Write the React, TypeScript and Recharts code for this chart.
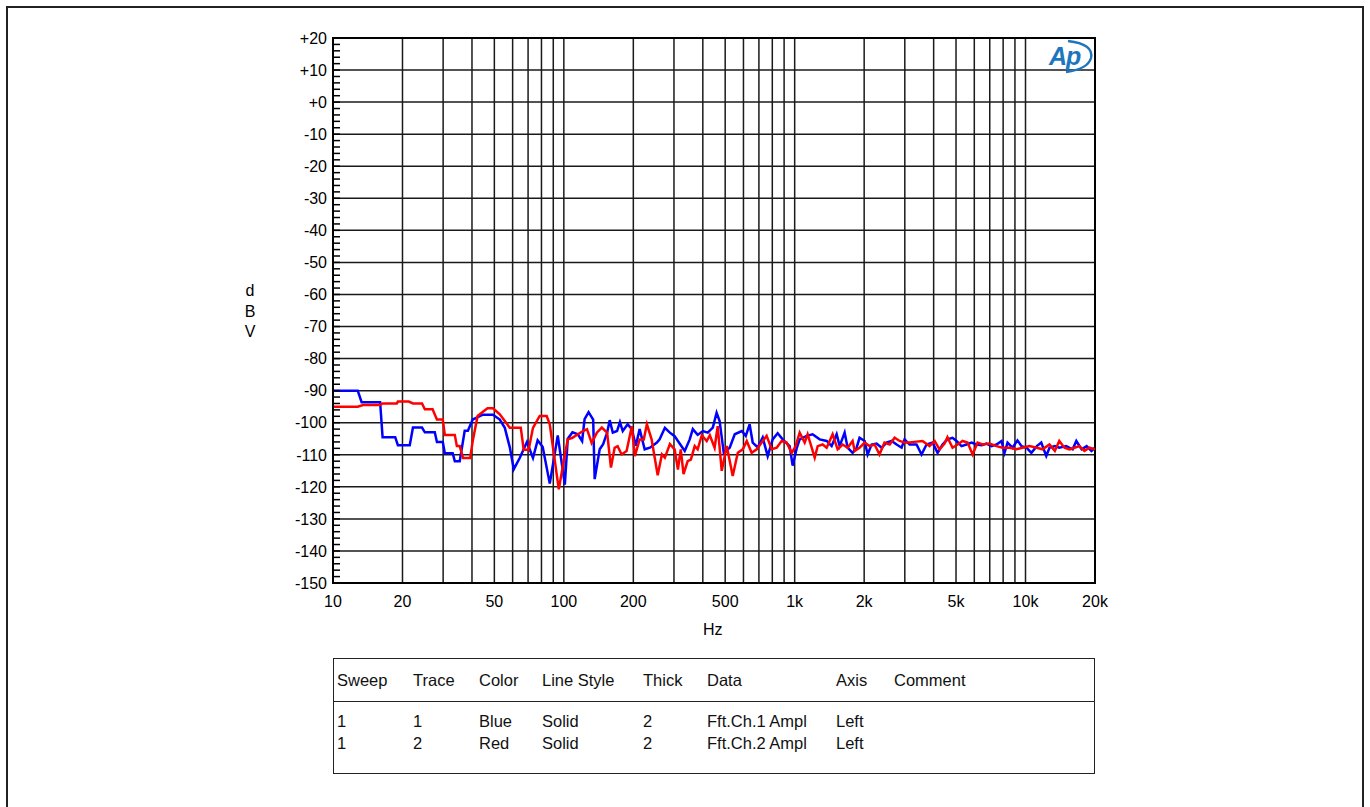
import React from "react";
import {
  LineChart,
  Line,
  XAxis,
  YAxis,
  CartesianGrid,
  ReferenceArea,
} from "recharts";

// FFT noise floor, channel 1 (blue) and channel 2 (red): [Hz, dBV]
const CH1_TRACE: [number, number][] = [
  [10, -90], [12.8, -90], [13.3, -93.6], [16, -93.6], [16.4, -104.5], [18.6, -104.5],
  [19.1, -107], [21.5, -107], [22.2, -101.5], [24.3, -101.5], [25, -103], [27.6, -103],
  [28.2, -106], [29.9, -106], [30.5, -109.5], [33, -109.5], [33.7, -112], [35.4, -112],
  [37.2, -102.5], [38.4, -102.5], [40.3, -99], [44.6, -97.5], [49.3, -97.5], [52.8, -99],
  [55.5, -101.6], [58.3, -107.6], [60.7, -114.5], [64.4, -111], [69.2, -106], [73.5, -111],
  [77, -105.5], [81, -107.6], [86.9, -119], [94.1, -104], [101, -119.3], [104, -105],
  [109, -103], [115, -103.6], [120, -105.7], [123, -98.9], [128, -96.7], [134, -99],
  [136, -117.6], [143, -108.3], [148, -106.7], [154, -103.1], [158, -99.2], [163, -103.1],
  [170, -102.6], [175, -99.8], [180, -102.6], [189, -100.5], [197, -102], [205, -107.2],
  [213, -102], [224, -108.3], [236, -107.8], [253, -106.2], [260, -105.2], [274, -101.6],
  [288, -103.1], [302, -104.2], [312, -105.7], [334, -108.8], [351, -105.2], [362, -102],
  [380, -103.8], [400, -102.6], [420, -103.1], [442, -101.5], [459, -96.9], [473, -99.5],
  [493, -109.4], [523, -107.8], [550, -103.6], [590, -102.6], [614, -104.1], [638, -100.5],
  [658, -106.2], [692, -107.7], [727, -104.6], [764, -110.4], [803, -105.2], [844, -103.3],
  [887, -105.2], [951, -107.3], [980, -113.4], [1020, -108], [1051, -105.2], [1127, -104.1],
  [1196, -103.6], [1283, -105.2], [1376, -105.7], [1446, -107.3], [1520, -103.6], [1566, -107.3],
  [1646, -103.1], [1696, -107.8], [1782, -109.4], [1855, -107.8], [1910, -104.7], [2010, -105.7],
  [2070, -109.9], [2154, -106.8], [2264, -106.5], [2381, -107.8], [2500, -106.2], [2630, -105.7],
  [2765, -106.8], [2905, -107.8], [2994, -105.2], [3146, -106.8], [3373, -106.8], [3545, -109.9],
  [3726, -106.8], [3958, -106.2], [4160, -109.4], [4370, -106.8], [4590, -105.2], [4830, -104.7],
  [5025, -105.7], [5280, -107.3], [5550, -106.8], [5840, -106.2], [6140, -106.8], [6450, -107],
  [6780, -106.5], [7120, -107.3], [7490, -106.8], [7870, -105.7], [8110, -109.4], [8360, -106.2],
  [8780, -107.8], [9230, -105.5], [9610, -107.3], [10100, -107.8], [10600, -109.4], [11200, -107.3],
  [11700, -106.2], [12300, -110.4], [12700, -107.8], [13400, -107.3], [14000, -107.8], [15000, -107.3],
  [16000, -108.3], [16600, -105.7], [17500, -108.3], [18400, -107.3], [19300, -108.8], [20000, -107.8],
];

const CH2_TRACE: [number, number][] = [
  [10, -95], [12.8, -95], [13.5, -94.5], [16, -94.5], [16.4, -94], [18.9, -94],
  [19.1, -93.4], [21.3, -93.4], [22.2, -94], [24.3, -94], [25, -95.8], [27, -95.8],
  [28.2, -99], [29.9, -99], [30.5, -103.8], [33.7, -103.8], [34.4, -107.3], [35.4, -107.3],
  [36.6, -111], [39.3, -111], [40.3, -105.7], [42.3, -97.9], [46.7, -95.5], [49.3, -95.5],
  [52.8, -97.4], [55.5, -99.5], [58.3, -101.6], [65.1, -101.6], [67, -108.4], [70.4, -108.4],
  [73.5, -101.6], [78.6, -97.9], [84.3, -97.9], [86.9, -100.5], [95.1, -120.8], [101, -110],
  [104, -105.2], [109, -104.7], [115, -103.6], [121, -102.6], [126, -102], [132, -106.3],
  [139, -103.1], [146, -101.5], [154, -103.1], [160, -114], [166, -107.8], [171, -107.3],
  [178, -109.9], [187, -108.8], [197, -101.1], [203, -110.4], [213, -105.2], [222, -105.2],
  [229, -100.5], [240, -105.2], [255, -116.4], [266, -109.9], [274, -110.9], [288, -106.7],
  [302, -108.3], [312, -114.6], [321, -108.3], [330, -116], [344, -112], [355, -111.5],
  [369, -107.3], [380, -108.3], [396, -103.9], [416, -105.7], [429, -103.9], [450, -107.8],
  [464, -101.1], [483, -115], [508, -107.3], [539, -116.6], [567, -109.4], [596, -108.3],
  [620, -105.7], [651, -109.4], [685, -108.3], [720, -106.2], [756, -104.1], [795, -108.3],
  [836, -107.8], [878, -105.7], [923, -106.2], [971, -109.4], [1010, -107.3], [1051, -103.1],
  [1105, -106.2], [1138, -103.6], [1221, -110.9], [1258, -107.3], [1322, -106.8], [1376, -107.8],
  [1460, -103.6], [1535, -108.3], [1614, -106.8], [1696, -107.8], [1782, -105.7], [1820, -108.8],
  [1910, -107.8], [2010, -106.2], [2110, -107.3], [2220, -106.8], [2330, -109.9], [2450, -106.2],
  [2580, -106.8], [2710, -104.7], [2850, -105.7], [2990, -106.2], [3150, -106.2], [3370, -105.9],
  [3580, -105.7], [3840, -107.3], [4040, -105.7], [4240, -108.3], [4460, -106.5], [4590, -104.5],
  [4830, -107.8], [5080, -106.8], [5340, -105.7], [5610, -106.2], [5900, -109.9], [6200, -106.2],
  [6510, -106.8], [6980, -106.5], [7490, -107.3], [7950, -107.8], [8530, -107.8], [9140, -108.3],
  [9710, -107.8], [10400, -107.3], [11200, -107.8], [11850, -108.3], [12700, -106.8], [13400, -108.8],
  [14000, -105.7], [14750, -107.8], [15500, -108.3], [16300, -107.8], [17100, -107.3], [18000, -108.8],
  [18900, -107.8], [20000, -108.3],
];

// log grid: 1..9 in every decade, up to 20k
const FREQ_GRID = [
  10, 20, 30, 40, 50, 60, 70, 80, 90,
  100, 200, 300, 400, 500, 600, 700, 800, 900,
  1000, 2000, 3000, 4000, 5000, 6000, 7000, 8000, 9000,
  10000, 20000,
];
const FREQ_LABELED = [10, 20, 50, 100, 200, 500, 1000, 2000, 5000, 10000, 20000];

const DB_MAJOR = [20, 10, 0, -10, -20, -30, -40, -50, -60, -70, -80, -90, -100, -110, -120, -130, -140, -150];
const DB_TICKS = Array.from({ length: 86 }, (_, i) => 20 - i * 2);

const LEGEND_COLUMNS = ["Sweep", "Trace", "Color", "Line Style", "Thick", "Data", "Axis", "Comment"];
const LEGEND_ROWS = [
  ["1", "1", "Blue", "Solid", "2", "Fft.Ch.1 Ampl", "Left", ""],
  ["1", "2", "Red", "Solid", "2", "Fft.Ch.2 Ampl", "Left", ""],
];
const COLUMN_X = [3, 79, 145, 208, 309, 373, 502, 560];

const FONT = '"Liberation Sans", Arial, sans-serif';
const TICK_GAP = 5;

const toPoints = (trace: [number, number][]) => trace.map(([hz, db]) => ({ hz, db }));

const formatHz = (v: number) => {
  if (!FREQ_LABELED.includes(v)) return "";
  return v >= 1000 ? `${v / 1000}k` : `${v}`;
};
const formatDb = (v: number) => (v >= 0 ? `+${v}` : `${v}`);

// every 2 dB: a short inward tick; every 10 dB also a label left of the axis
function DbTick(props: any) {
  const { x, y, payload } = props;
  const v = payload.value as number;
  const axisX = x + TICK_GAP;
  return (
    <g>
      <line x1={axisX} x2={axisX + 7} y1={y} y2={y} stroke="#000" strokeWidth={1.5} />
      {v % 10 === 0 && (
        <text
          x={x - 1}
          y={y}
          dy="0.36em"
          textAnchor="end"
          fontSize={16}
          fontFamily={FONT}
          fill="#000"
        >
          {formatDb(v)}
        </text>
      )}
    </g>
  );
}

function ApLogo() {
  return (
    <svg width={60} height={40} style={{ position: "absolute", left: 1042, top: 38 }}>
      <text
        x={7}
        y={27}
        fontFamily={FONT}
        fontStyle="italic"
        fontWeight="bold"
        fontSize={25}
        fill="#1d76bd"
        letterSpacing={-1}
      >
        Ap
      </text>
      <path d="M26 3 Q52 6 49 20 Q46 31 24 34" fill="none" stroke="#1d76bd" strokeWidth={2.4} />
    </svg>
  );
}

function LegendTable() {
  const cell = (text: string, x: number, y: number, key: string) => (
    <div key={key} style={{ position: "absolute", left: x, top: y, whiteSpace: "nowrap" }}>
      {text}
    </div>
  );
  return (
    <div
      style={{
        position: "absolute",
        left: 333,
        top: 658,
        width: 760,
        height: 114,
        border: "1px solid #222",
        fontFamily: FONT,
        fontSize: 16.5,
        color: "#111",
      }}
    >
      <div style={{ position: "absolute", left: 0, right: 0, top: 42, borderTop: "1px solid #222" }} />
      {LEGEND_COLUMNS.map((c, i) => cell(c, COLUMN_X[i], 12, `h${i}`))}
      {LEGEND_ROWS.map((row, r) =>
        row.map((c, i) => cell(c, COLUMN_X[i], 53 + r * 22, `r${r}c${i}`))
      )}
    </div>
  );
}

export default function App() {
  const ch1 = toPoints(CH1_TRACE);
  const ch2 = toPoints(CH2_TRACE);

  return (
    <div
      style={{
        position: "absolute",
        left: 0,
        top: 0,
        width: 1370,
        height: 807,
        background: "#fff",
        overflow: "hidden",
        fontFamily: FONT,
      }}
    >
      <div
        style={{
          position: "absolute",
          left: 6,
          top: 6,
          width: 1354,
          height: 820,
          border: "2px solid #222",
        }}
      />
      <LineChart
        width={1370}
        height={807}
        margin={{ top: 38, right: 275, bottom: 194, left: 273 }}
        style={{ position: "absolute", left: 0, top: 0 }}
      >
        <CartesianGrid
          stroke="#1a1a1a"
          strokeWidth={1.5}
          horizontalValues={DB_MAJOR}
          verticalValues={FREQ_GRID}
        />
        <XAxis
          dataKey="hz"
          type="number"
          scale="log"
          domain={[10, 20000]}
          ticks={FREQ_GRID}
          interval={0}
          tickFormatter={formatHz}
          tickLine={false}
          tickSize={0}
          tickMargin={13}
          axisLine={{ stroke: "#000", strokeWidth: 2 }}
          tick={{ fontSize: 16, fill: "#000", fontFamily: FONT }}
          allowDataOverflow
        />
        <YAxis
          type="number"
          domain={[-150, 20]}
          ticks={DB_TICKS}
          interval={0}
          tickLine={false}
          tickSize={0}
          tickMargin={TICK_GAP}
          width={60}
          axisLine={{ stroke: "#000", strokeWidth: 2 }}
          tick={<DbTick />}
          allowDataOverflow
        />
        <ReferenceArea
          x1={10}
          x2={20000}
          y1={-150}
          y2={20}
          fill="none"
          stroke="#000"
          strokeWidth={2}
        />
        <Line
          data={ch1}
          dataKey="db"
          type="linear"
          stroke="#0000ff"
          strokeWidth={2.5}
          dot={false}
          isAnimationActive={false}
        />
        <Line
          data={ch2}
          dataKey="db"
          type="linear"
          stroke="#ff0000"
          strokeWidth={2.5}
          dot={false}
          isAnimationActive={false}
        />
      </LineChart>

      {["d", "B", "V"].map((ch, i) => (
        <div
          key={ch}
          style={{
            position: "absolute",
            left: 242,
            width: 16,
            top: 282 + i * 20.5,
            textAlign: "center",
            fontSize: 16,
            lineHeight: "18px",
          }}
        >
          {ch}
        </div>
      ))}
      <div style={{ position: "absolute", left: 703, top: 621, fontSize: 16, lineHeight: "18px" }}>Hz</div>

      <ApLogo />
      <LegendTable />
    </div>
  );
}
